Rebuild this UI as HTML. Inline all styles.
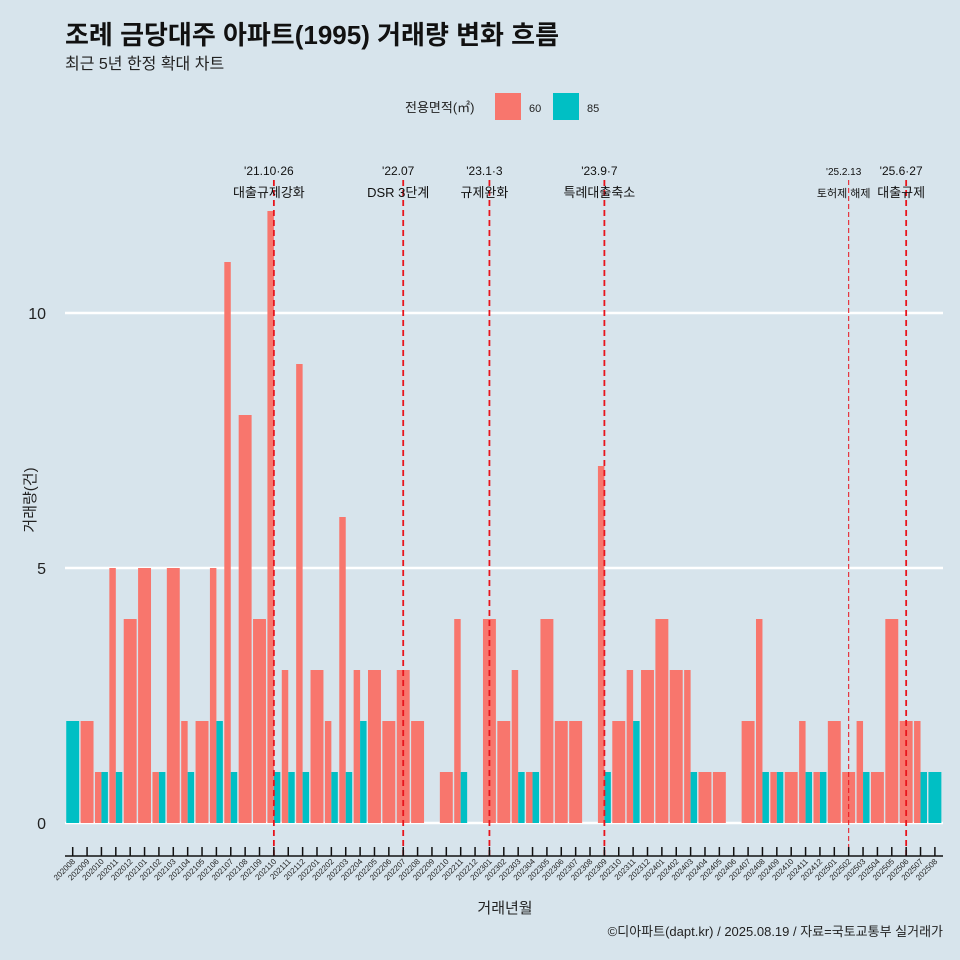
<!DOCTYPE html>
<html><head><meta charset="utf-8"><style>
body{margin:0;background:#d7e4ec;}
svg{display:block;font-family:"Liberation Sans","Noto Sans CJK KR",sans-serif;}
</style></head><body>
<svg id="c" width="960" height="960" viewBox="0 0 960 960">
<rect width="960" height="960" fill="#d7e4ec"/>
<text x="65" y="44" font-size="26" font-weight="bold" fill="#111">조례 금당대주 아파트(1995) 거래량 변화 흐름</text>
<text x="65" y="69" font-size="16" fill="#222">최근 5년 한정 확대 차트</text>
<g>
<text x="405" y="112" font-size="13" fill="#222">전용면적(㎡)</text>
<rect x="495" y="93" width="26" height="27" fill="#f8766d"/>
<text x="529" y="112" font-size="11" fill="#222">60</text>
<rect x="553" y="93" width="26" height="27" fill="#00bfc4"/>
<text x="587" y="112" font-size="11" fill="#222">85</text>
</g>
<g id="grid"></g><g id="bars"></g><g id="events"></g><g id="xaxis"></g>
<text transform="translate(35,500) rotate(-90)" text-anchor="middle" font-size="15" fill="#222">거래량(건)</text>
<text x="505" y="913" text-anchor="middle" font-size="15" fill="#222">거래년월</text>
<text x="943" y="936" text-anchor="end" font-size="13" fill="#222">©디아파트(dapt.kr) / 2025.08.19 / 자료=국토교통부 실거래가</text>
</svg>
<script>
const months=["202008","202009","202010","202011","202012","202101","202102","202103","202104","202105","202106","202107","202108","202109","202110","202111","202112","202201","202202","202203","202204","202205","202206","202207","202208","202209","202210","202211","202212","202301","202302","202303","202304","202305","202306","202307","202308","202309","202310","202311","202312","202401","202402","202403","202404","202405","202406","202407","202408","202409","202410","202411","202412","202501","202502","202503","202504","202505","202506","202507","202508"];
const s60=[0,2,1,5,4,5,1,5,2,2,5,11,8,4,12,3,9,3,2,6,3,3,2,3,2,0,1,4,0,4,2,3,1,4,2,2,0,7,2,3,3,4,3,3,1,1,0,2,4,1,1,2,1,2,1,2,1,4,2,2,0];
const s85=[2,0,1,1,0,0,1,0,1,0,2,1,0,0,1,1,1,0,1,1,2,0,0,0,0,0,0,1,0,0,0,1,1,0,0,0,0,1,0,2,0,0,0,1,0,0,0,0,1,1,0,1,1,0,0,1,0,0,0,1,1];
const yTicks=[0,5,10];
const events=["202110","202207","202301","202309","202502","202506"];
const evDate=["'21.10·26","'22.07","'23.1·3","'23.9·7","'25.2.13","'25.6·27"];
const evText=["대출규제강화","DSR 3단계","규제완화","특례대출축소","토허제 해제","대출규제"];
const NS="http://www.w3.org/2000/svg";
const x0=72.7,step=14.37,yb=823,ppu=51;
const xs=i=>x0+i*step, ys=v=>yb-v*ppu;
function mk(t,a,p){const e=document.createElementNS(NS,t);for(const k in a)e.setAttribute(k,a[k]);p.appendChild(e);return e;}
const G=id=>document.getElementById(id);
yTicks.forEach(v=>{
 const l=mk('line',{x1:65,x2:943,y1:ys(v),y2:ys(v),stroke:'#fff','stroke-width':2.5},G('grid'));
 
 
 const t=mk('text',{x:46,y:ys(v)+6,'text-anchor':'end','font-size':16,fill:'#222'},G('grid'));
 
 
 t.textContent=v;
});
const bw=step*0.9;
months.forEach((m,i)=>{
 const a=s60[i],b=s85[i],cx=xs(i);
 const both=a>0&&b>0;
 if(a>0){const w=both?bw/2:bw,x=cx-bw/2;
  const r=mk('rect',{x:x,y:ys(a),width:w,height:a*ppu,fill:'#f8766d'},G('bars'));
  
  }
 if(b>0){const w=both?bw/2:bw,x=both?cx:cx-bw/2;
  const r=mk('rect',{x:x,y:ys(b),width:w,height:b*ppu,fill:'#00bfc4'},G('bars'));
  
  }
 const tk=mk('line',{x1:cx,x2:cx,y1:847,y2:856,stroke:'#111','stroke-width':1.5},G('xaxis'));
 
 
 const t=mk('text',{transform:`translate(${cx+3},862) rotate(-45)`,'text-anchor':'end','font-size':8,fill:'#222'},G('xaxis'));
 
 
 t.textContent=m;
});
const ax=mk('line',{x1:65,x2:943,y1:856,y2:856,stroke:'#111','stroke-width':1.5},G('xaxis'));


events.forEach((m,k)=>{
 const cx=xs(months.indexOf(m)),thin=m==="202502";
 const l=mk('line',{x1:cx,x2:cx,y1:180,y2:856,stroke:'#e8141c','stroke-width':thin?1:1.8,'stroke-dasharray':thin?'5,3':'6,4'},G('events'));
 
 
 const fs=thin?10:12;
 const d=mk('text',{x:cx-5,y:175,'text-anchor':'middle','font-size':fs,fill:'#111'},G('events'));
 
 
 d.textContent=evDate[k];
 const t=mk('text',{x:cx-5,y:197,'text-anchor':'middle','font-size':fs+1,fill:'#111'},G('events'));
 
 
 t.textContent=evText[k];
});
</script>
</body></html>
